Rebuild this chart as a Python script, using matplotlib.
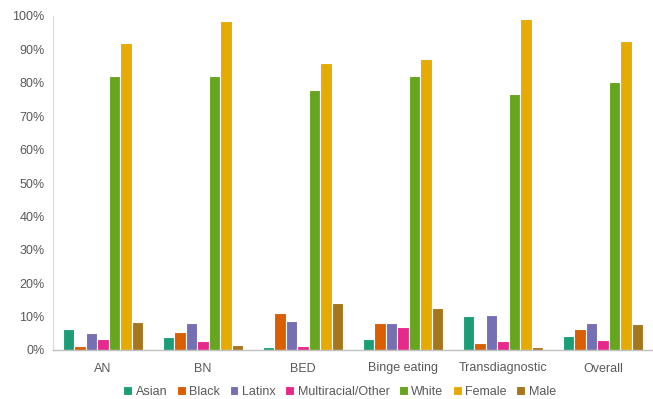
import matplotlib.pyplot as plt
import numpy as np
from matplotlib.ticker import PercentFormatter

categories = ["AN", "BN", "BED", "Binge eating", "Transdiagnostic", "Overall"]
series_names = ["Asian", "Black", "Latinx", "Multiracial/Other", "White", "Female", "Male"]

asian = [6.4, 3.9, 0.8, 3.4, 10.1, 4.1]
black = [1.2, 5.4, 11.0, 8.0, 2.2, 6.2]
latinx = [5.2, 8.0, 8.8, 8.0, 10.6, 8.0]
multiracial = [3.4, 2.8, 1.3, 6.9, 2.8, 3.0]
white = [82.0, 82.0, 77.8, 81.9, 76.7, 80.2]
female = [91.8, 98.6, 86.0, 87.2, 99.0, 92.4]
male = [8.3, 1.5, 14.2, 12.6, 0.8, 7.8]

colors = ["#1b9e77", "#d95f02", "#7570b3", "#e7298a", "#66a61e", "#e6ab02", "#a6761d"]

plt.rcParams["font.family"] = ["Liberation Sans", "DejaVu Sans"]

fig = plt.figure(figsize=(6.53, 3.99), dpi=100)
ax = fig.add_axes([53 / 653, 49 / 399, 600 / 653, 334 / 399])

x = np.arange(len(categories))
n = len(series_names)
width = 0.8 / n
for i, (name, vals, c) in enumerate(zip(series_names, [asian, black, latinx, multiracial, white, female, male], colors)):
    ax.bar(x + (i - (n - 1) / 2) * width, vals, width, color=c, edgecolor="white", linewidth=0.8, label=name)

ax.set_xlim(-0.5, len(categories) - 0.5)
ax.set_ylim(0, 100)
ax.set_yticks(np.arange(0, 101, 10))
ax.yaxis.set_major_formatter(PercentFormatter(decimals=0))
ax.set_xticks(x)
ax.set_xticklabels(categories)
ax.tick_params(axis="both", length=0, labelsize=9, colors="#595959")
ax.tick_params(axis="x", pad=9)
ax.tick_params(axis="y", pad=6)

for side in ["top", "right"]:
    ax.spines[side].set_visible(False)
ax.spines["left"].set_color("#d9d9d9")
ax.spines["bottom"].set_color("#bfbfbf")
ax.spines["bottom"].set_linewidth(1.0)

fig.legend(loc="lower center", ncol=n, frameon=False, fontsize=9, handlelength=0.7, handleheight=0.7,
           handletextpad=0.3, columnspacing=0.75, bbox_to_anchor=(0.52, -0.025), labelcolor="#595959")

fig.savefig("out.png", dpi=100)
